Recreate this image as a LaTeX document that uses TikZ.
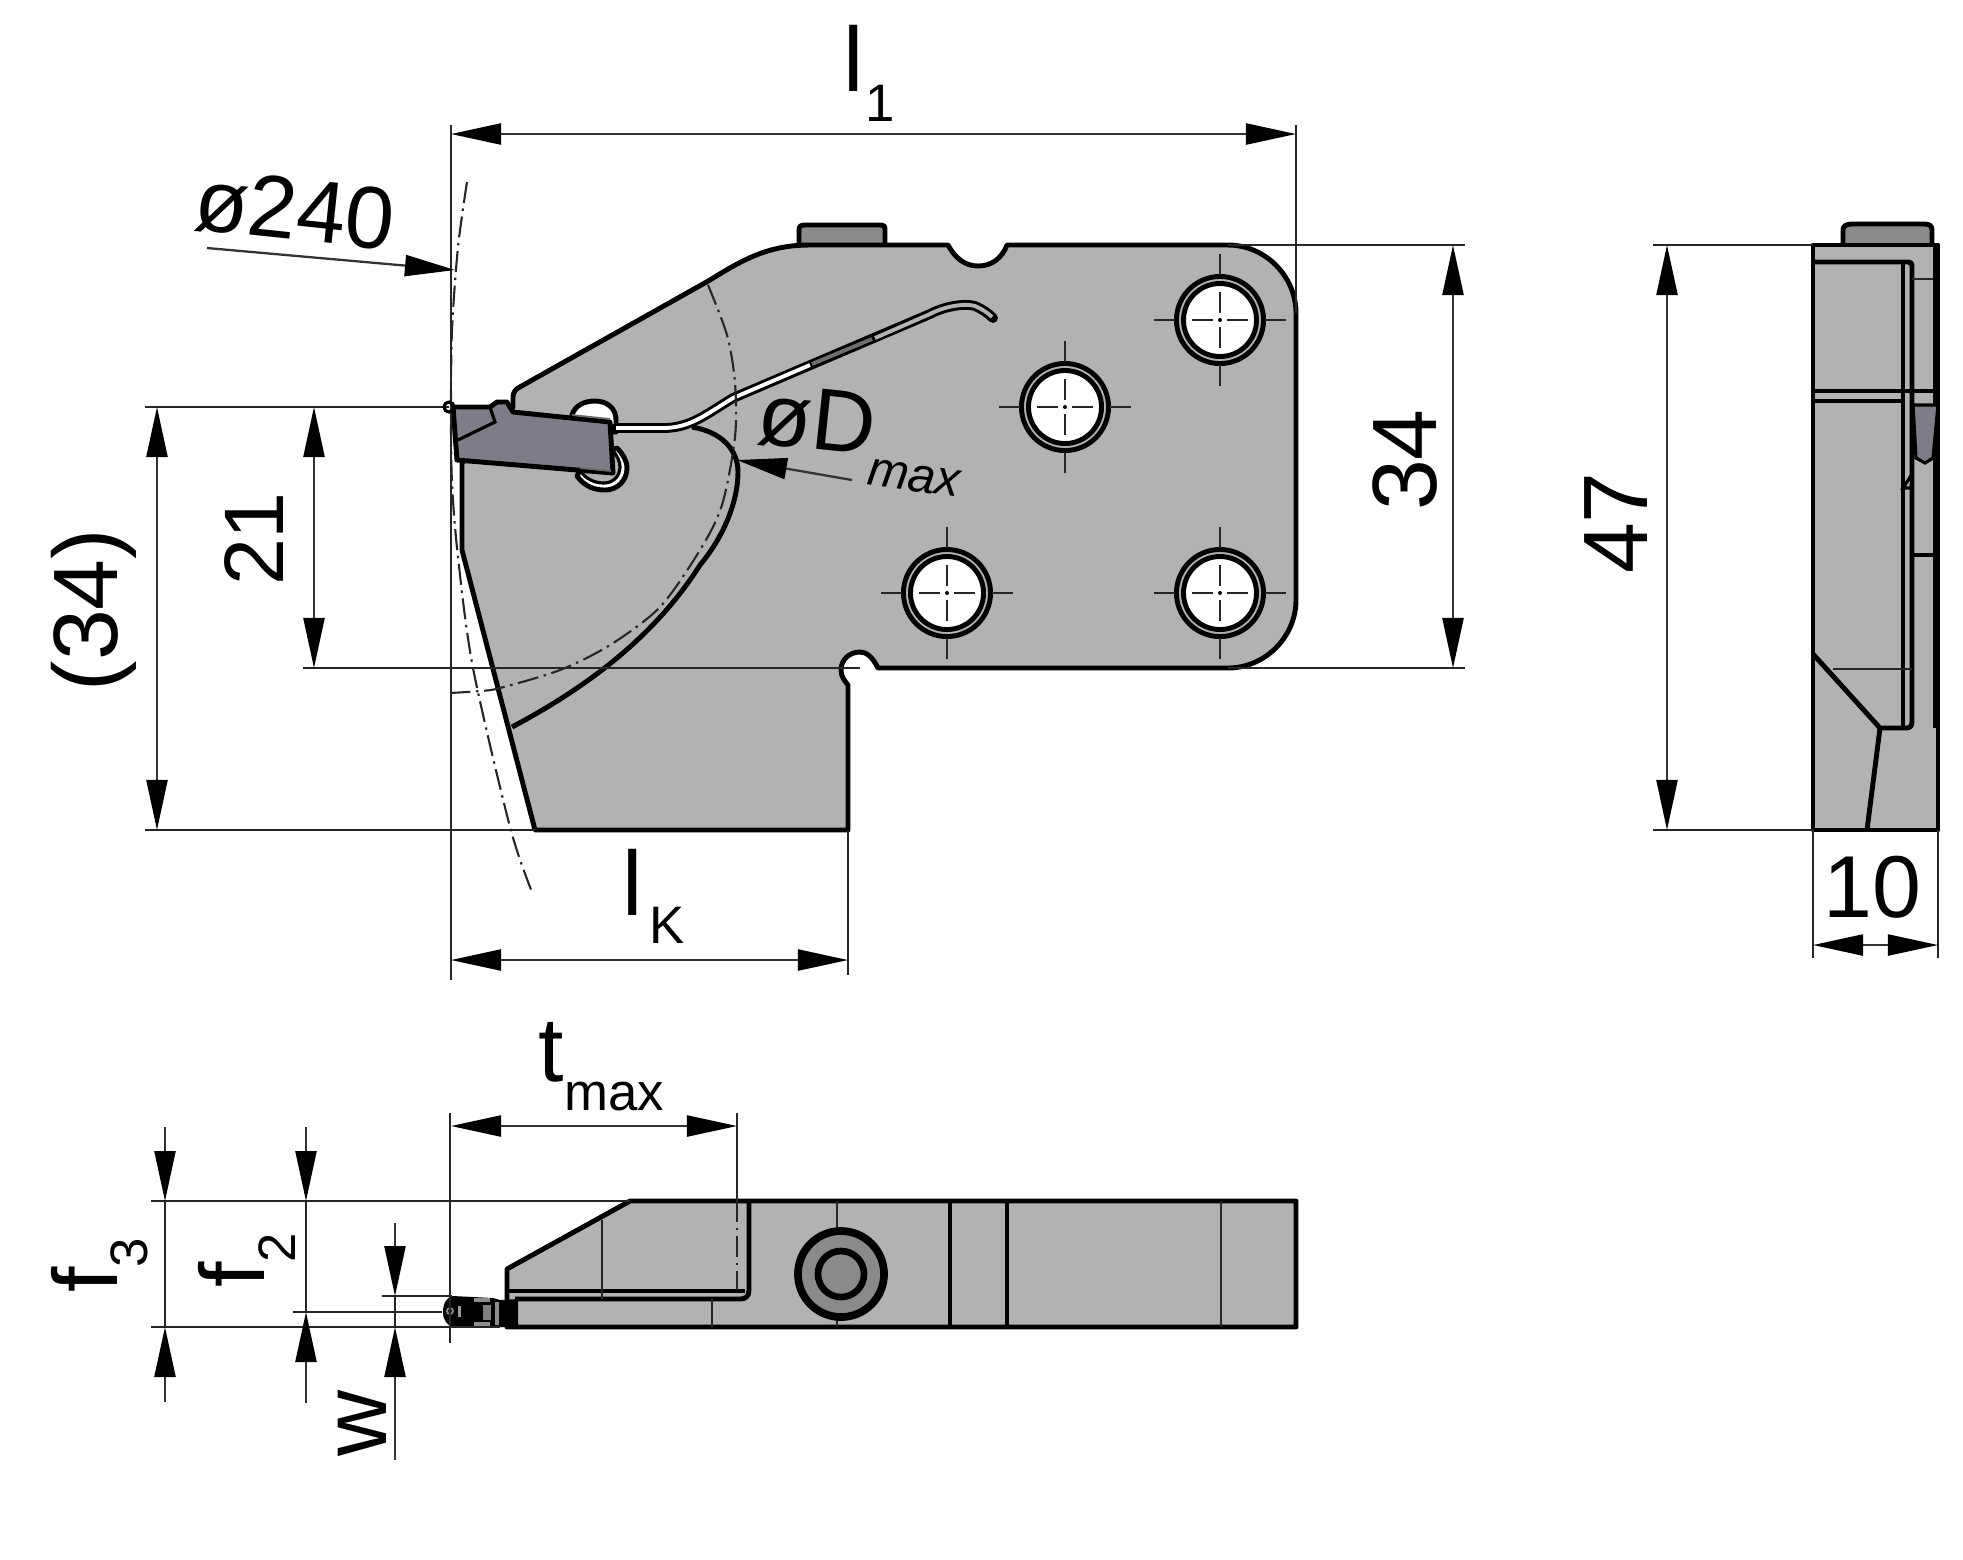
\documentclass[tikz,border=0pt]{standalone}
\usepackage{fontspec}
\setmainfont{Liberation Sans}
\usetikzlibrary{arrows.meta}

\definecolor{bodygray}{HTML}{B2B2B2}
\definecolor{peggray}{HTML}{8A8A8A}
\definecolor{tipgray}{HTML}{7E7C86}

\tikzset{
  outl/.style={line width=1.4pt, black, line join=round},
  midl/.style={line width=.9pt, black},
  thinl/.style={line width=.6pt, black!85},
  dimline/.style={line width=.65pt, black!80, >={Triangle[length=.5cm,width=.21cm,black]}},
  chainl/.style={line width=.6pt, black!85, dash pattern=on 6pt off 1.6pt on .7pt off 1.6pt},
  biglab/.style={inner sep=0pt, font=\fontsize{26}{26}\selectfont},
  sublab/.style={inner sep=0pt, font=\fontsize{15}{15}\selectfont},
}

\begin{document}
\begin{tikzpicture}[x=.01cm, y=-.01cm]
  \useasboundingbox (0,0) rectangle (1963,1559);

  % side view at the top
  \fill[peggray] (800,226) rectangle (884,245);
  \draw[outl] (799,245) -- (799,230) .. controls (799,226) and (801,225) .. (805,225) -- (880,225) .. controls (884,225) and (885,226) .. (885,230) -- (885,245);

  \draw[outl, fill=bodygray] (513,407) -- (513,397) .. controls (513,393) and (515,390) .. (518,388) -- (710,280)
    .. controls (745,258) and (770,245) .. (810,245) -- (948,245)
    .. controls (955,258) and (965,266) .. (978,266) .. controls (992,266) and (1002,258) .. (1007,245)
    -- (1228,245) .. controls (1265,245) and (1296,276) .. (1296,313)
    -- (1296,600) .. controls (1296,637) and (1265,668) .. (1228,668) -- (878,668)
    .. controls (872,656) and (866,652) .. (860,652) .. controls (849,652) and (841,660) .. (841,670)
    .. controls (841,677) and (845,681) .. (848,685) -- (848,830) -- (535,830) -- (462,550) -- (462,463) -- cycle;

  % slots behind the insert
  \draw[outl, fill=white] (572,415) .. controls (575,405) and (585,401) .. (595,401) .. controls (607,401) and (616,408) .. (616,420) -- (616,432) -- (572,432) -- cycle;
  \draw[outl, fill=white] (577,476) .. controls (585,487) and (595,490) .. (605,490) .. controls (618,490) and (627,480) .. (627,468) .. controls (627,460) and (622,453) .. (617,448) -- (585,460) -- cycle;
  \draw[midl, fill=bodygray] (580,470) .. controls (586,480) and (596,483) .. (604,483) .. controls (613,483) and (620,476) .. (620,467) .. controls (620,461) and (617,456) .. (614,452) -- cycle;

  % slit and the curve under it
  \draw[line width=2.8pt, line cap=round] (616,428) -- (663,428) .. controls (690,428) and (705,415) .. (733,398) -- (930,314) .. controls (945,306) and (965,303) .. (975,306) .. controls (982,309) and (988,313) .. (993,318);
  \draw[line width=1.1pt, white] (616,428) -- (663,428) .. controls (690,428) and (705,415) .. (733,398) -- (810,365);
  \draw[line width=1.1pt, peggray!80!black] (812,364) -- (872,339);
  \draw[line width=1.1pt, bodygray] (875,338) -- (930,314) .. controls (945,306) and (965,303) .. (975,306) .. controls (982,309) and (988,313) .. (992,317);
  \draw[outl] (692,427) .. controls (722,432) and (738,450) .. (738,472) .. controls (738,500) and (725,535) .. (700,565) .. controls (665,620) and (610,675) .. (512,727);

  % insert
  \draw[outl, fill=tipgray] (453,407) -- (490,407) -- (497,402) -- (507,402) -- (513,412) -- (610,422) -- (613,473) -- (457,460) -- cycle;
  \draw[midl] (490,407) -- (495,422) -- (458,440);
  \draw[line width=.5pt, bodygray!60!black] (572,415) -- (610,419);
  \draw[line width=.5pt, bodygray!60!black] (580,468) -- (611,471);

  % holes
  \foreach \cx/\cy in {1220/320, 1065/407, 947/593, 1220/593} {
    \begin{scope}[shift={(\cx,\cy)}]
      \draw[outl, fill=bodygray] (0,0) circle[radius=.435cm];
      \draw[outl, fill=white] (0,0) circle[radius=.365cm];
      \draw[thinl] (-66,0) -- (-45,0) (45,0) -- (66,0) (0,-66) -- (0,-45) (0,45) -- (0,66);
      \draw[thinl] (-28,0) -- (-7,0) (7,0) -- (28,0) (0,-28) -- (0,-7) (0,7) -- (0,28);
      \fill (0,0) circle[radius=.02cm];
    \end{scope}
  }

  % chain lines
  \draw[chainl] plot[smooth] coordinates {(708,285) (727,335) (735,383) (735,437) (722,505) (700,550) (660,607) (610,645) (560,670) (500,688) (480,691) (450,693)};
  \draw[chainl] plot[smooth] coordinates {(467,182) (458,247) (452,330) (451,410) (452,483) (458,557) (473,668) (510,827) (532,892)};

  % side view on the right
  \fill[peggray] (1845,226) rectangle (1931,245);
  \draw[outl] (1843,245) -- (1843,230) .. controls (1843,226) and (1846,224) .. (1852,224) -- (1924,224) .. controls (1930,224) and (1932,226) .. (1932,230) -- (1932,245);
  \draw[outl, fill=bodygray] (1813,245) rectangle (1938,830);
  \draw[outl] (1813,262) -- (1908,262) .. controls (1911,262) and (1912,263) .. (1912,266) -- (1912,722) .. controls (1912,726) and (1910,728) .. (1906,728) -- (1880,728) -- (1813,654);
  \draw[outl] (1880,728) -- (1867,830);
  \draw[midl] (1903,262) -- (1903,728);
  \draw[thinl] (1833,669) -- (1912,669);
  \draw[outl] (1813,391) -- (1936,391);
  \draw[outl] (1813,401) -- (1905,401);
  \draw[thinl] (1912,279) -- (1935,279);
  \draw[midl] (1912,555) -- (1935,555);
  \draw[midl] (1935,245) -- (1935,728);
  \draw[midl, fill=tipgray] (1913,405) -- (1938,405) -- (1933,458) -- (1925,463) -- (1916,458) -- cycle;
  \draw[midl] (1903,488) -- (1912,474) -- (1912,488) -- cycle;

  % view from below
  \draw[outl, fill=bodygray] (630,1201) -- (1296,1201) -- (1296,1327) -- (507,1327) -- (507,1269) -- cycle;
  \draw[midl] (507,1291) -- (745,1291);
  \draw[outl] (749,1201) -- (749,1290) .. controls (749,1296) and (746,1299) .. (740,1299) -- (515,1299);
  \foreach \xa/\ya/\yb in {602/1220/1299, 712/1299/1327, 837/1201/1240, 837/1320/1327, 1221/1201/1327} {
    \draw[thinl] (\xa,\ya) -- (\xa,\yb);
  }
  \foreach \xa in {950, 1007} {
    \draw[outl] (\xa,1201) -- (\xa,1327);
  }
  \draw[line width=2.2pt, fill=peggray] (841,1274) circle[radius=.43cm];
  \draw[line width=1.9pt, fill=peggray] (841,1274) circle[radius=.23cm];
  \draw[chainl] (737,1201) -- (737,1290);

  % small tool tip
  \fill (443,1312) .. controls (443,1303) and (447,1297) .. (453,1296) -- (493,1298) -- (500,1300) -- (518,1299) -- (518,1327) -- (495,1327) -- (453,1327) .. controls (447,1325) and (443,1320) .. (443,1312) -- cycle;
  \draw[line width=.5pt, black!45] (450,1311) circle[radius=.03cm];
  \draw[line width=.9pt, black!45] (474,1300) -- (490,1300) (474,1324) -- (490,1324) (497,1302) -- (497,1325);
  \fill[black!50] (483,1305) rectangle (491,1320);
  \fill[black!40] (458,1306) rectangle (461,1317);

  % extension lines
  \foreach \xa/\ya/\xb/\yb in {451/125/451/980, 1296/125/1296/313, 848/830/848/975,
      145/407/449/407, 145/830/535/830, 303/668/860/668, 1228/245/1465/245, 1228/668/1465/668,
      1653/245/1813/245, 1653/830/1813/830, 1813/830/1813/958, 1938/830/1938/958,
      450/1113/450/1343, 737/1113/737/1201,
      151/1201/630/1201, 151/1327/500/1327, 293/1312/442/1312, 382/1296/452/1296} {
    \draw[thinl] (\xa,\ya) -- (\xb,\yb);
  }
  \draw[line width=.9pt] (449,407) circle[radius=.05cm];

  % dimensions with two arrows
  \foreach \xa/\ya/\xb/\yb in {451/134/1296/134, 451/960/848/960, 157/407/157/830, 314/407/314/668,
      1453/245/1453/668, 1667/245/1667/830, 1813/945/1938/945, 451/1126/737/1126} {
    \draw[dimline, <->] (\xa,\ya) -- (\xb,\yb);
  }

  % dimensions with arrows from outside
  \foreach \xa/\ya/\xb/\yb in {165/1127/165/1201, 165/1402/165/1327, 306/1127/306/1201, 306/1403/306/1312,
      395/1223/395/1296, 395/1460/395/1327, 207/248/455/270, 852/480/737/460} {
    \draw[dimline, ->] (\xa,\ya) -- (\xb,\yb);
  }
  \draw[thinl] (165,1201) -- (165,1327);
  \draw[thinl] (306,1201) -- (306,1312);
  \draw[thinl] (395,1296) -- (395,1327);

  % labels
  \node[biglab] (lone) at (854,58) {l};
  \node[sublab] (loneidx) at (880,103) {1};
  \node[biglab] (lk) at (633,882) {l};
  \node[sublab] (lkidx) at (667,925) {K};
  \node[biglab, rotate=-6, font=\fontsize{25}{25}\selectfont] (dout) at (295,210) {ø240};
  \node[biglab, rotate=-6, font=\fontsize{25}{25}\selectfont] (dinn) at (817,420) {øD};
  \node[sublab, rotate=-8, font=\fontsize{14}{14}\selectfont\itshape] (dinnidx) at (914,478) {max};
  \node[biglab, rotate=90] (hall) at (94,610) {(34)};
  \node[biglab, rotate=90, font=\fontsize{24}{24}\selectfont] (hcut) at (254,539) {21};
  \node[biglab, rotate=90] (hplate) at (1405,460) {34};
  \node[biglab, rotate=90] (hside) at (1616,523) {47};
  \node[biglab, font=\fontsize{25}{25}\selectfont] (wside) at (1872,887) {10};
  \node[biglab] (tm) at (551,1052) {t};
  \node[sublab] (tmidx) at (614,1097) {max};
  \node[biglab, rotate=90] (fthree) at (84,1280) {f};
  \node[sublab, rotate=90] (fthreeidx) at (129,1253) {3};
  \node[biglab, rotate=90] (ftwo) at (231,1275) {f};
  \node[sublab, rotate=90] (ftwoidx) at (277,1248) {2};
  \node[biglab, rotate=90] (wd) at (362,1423) {w};
\end{tikzpicture}
\end{document}
